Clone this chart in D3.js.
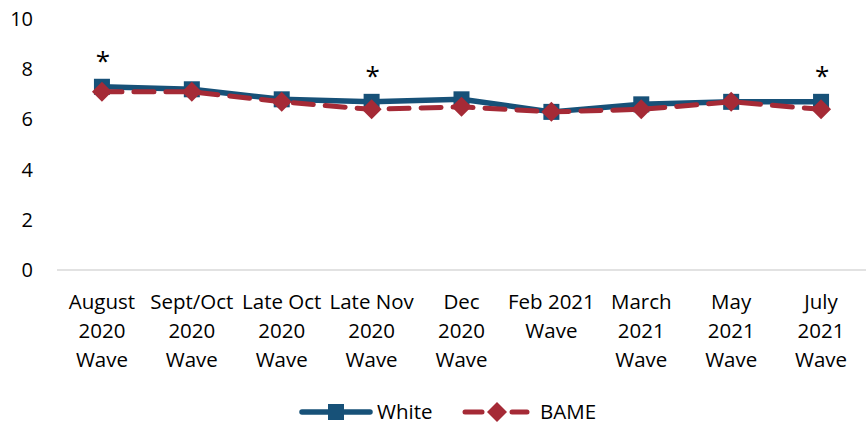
<!DOCTYPE html>
<html><head><meta charset="utf-8">
<script src="https://cdn.jsdelivr.net/npm/d3@7"></script>
<style>body{margin:0;background:#fff}svg{display:block;font-family:"Open Sans","Noto Sans",sans-serif}</style>
</head><body><svg id="c" width="866" height="427"></svg>
<script>
const categories = [["August","2020","Wave"],["Sept/Oct","2020","Wave"],["Late Oct","2020","Wave"],["Late Nov","2020","Wave"],["Dec","2020","Wave"],["Feb 2021","Wave"],["March","2021","Wave"],["May","2021","Wave"],["July","2021","Wave"]];
const white = [7.3, 7.2, 6.8, 6.7, 6.8, 6.3, 6.6, 6.7, 6.7];
const bame  = [7.1, 7.1, 6.7, 6.4, 6.5, 6.3, 6.4, 6.7, 6.4];
const significant = [0, 3, 8];
const yTicks = [0, 2, 4, 6, 8, 10];

const svg = d3.select("#c");
const m = {l:57, r:866, t:19, b:270};
const x = d3.scaleBand().domain(d3.range(categories.length)).range([m.l, m.r]);
const y = d3.scaleLinear().domain([0,10]).range([m.b, m.t]);
const cx = i => x(i) + x.bandwidth()/2;

// y tick labels
svg.append("g").selectAll("text").data(yTicks).join("text")
  .attr("x", 33).attr("y", d => y(d)).attr("dy","0.35em")
  .attr("text-anchor","end").attr("font-size",20).attr("fill","#000").text(d=>d);

// x axis line
svg.append("line").attr("x1", m.l).attr("x2", m.r).attr("y1", y(0)).attr("y2", y(0))
  .attr("stroke","#d9d9d9").attr("stroke-width",1.5);

// x labels
const xl = svg.append("g").selectAll("text").data(categories).join("text")
  .attr("text-anchor","middle").attr("font-size",20.5).attr("fill","#000");
xl.each(function(d,i){
  d3.select(this).selectAll("tspan").data(d).join("tspan")
    .attr("x", cx(i)).attr("y", (t,j) => 309 + j*29).text(t=>t);
});

const line = d3.line().x((d,i)=>cx(i)).y(d=>y(d));
const blue = "#175178", red = "#a52a36";
const dia = "M0,-10L10,0L0,10L-10,0Z";

svg.append("path").datum(white).attr("d", line).attr("fill","none")
  .attr("stroke", blue).attr("stroke-width",5.5).attr("stroke-linejoin","round");
svg.append("g").selectAll("rect").data(white).join("rect")
  .attr("x",(d,i)=>cx(i)-8).attr("y",d=>y(d)-8).attr("width",16).attr("height",16).attr("fill",blue);

svg.append("path").datum(bame).attr("d", line).attr("fill","none")
  .attr("stroke", red).attr("stroke-width",5).attr("stroke-dasharray","20,12").attr("stroke-linecap","round");
svg.append("g").selectAll("path").data(bame).join("path")
  .attr("d", dia).attr("transform",(d,i)=>`translate(${cx(i)},${y(d)})`).attr("fill",red);

// asterisks
svg.append("g").selectAll("text").data(significant).join("text")
  .attr("x", i=>cx(i)+1).attr("y", i=>y(white[i]) - 17).attr("text-anchor","middle")
  .attr("font-size",26).attr("fill","#000").text("*");

// legend
const lg = svg.append("g");
lg.append("line").attr("x1",302).attr("x2",370).attr("y1",412).attr("y2",412).attr("stroke",blue).attr("stroke-width",5.5).attr("stroke-linecap","round");
lg.append("rect").attr("x",328).attr("y",404).attr("width",16).attr("height",16).attr("fill",blue);
lg.append("text").attr("x",377).attr("y",412).attr("dy","0.35em").attr("font-size",20.5).text("White");
lg.append("line").attr("x1",465).attr("x2",482).attr("y1",412).attr("y2",412).attr("stroke",red).attr("stroke-width",5).attr("stroke-linecap","round");
lg.append("line").attr("x1",512).attr("x2",527).attr("y1",412).attr("y2",412).attr("stroke",red).attr("stroke-width",5).attr("stroke-linecap","round");
lg.append("path").attr("d",dia).attr("transform","translate(497,412)").attr("fill",red);
lg.append("text").attr("x",540).attr("y",412).attr("dy","0.35em").attr("font-size",20.5).text("BAME");
</script></body></html>
